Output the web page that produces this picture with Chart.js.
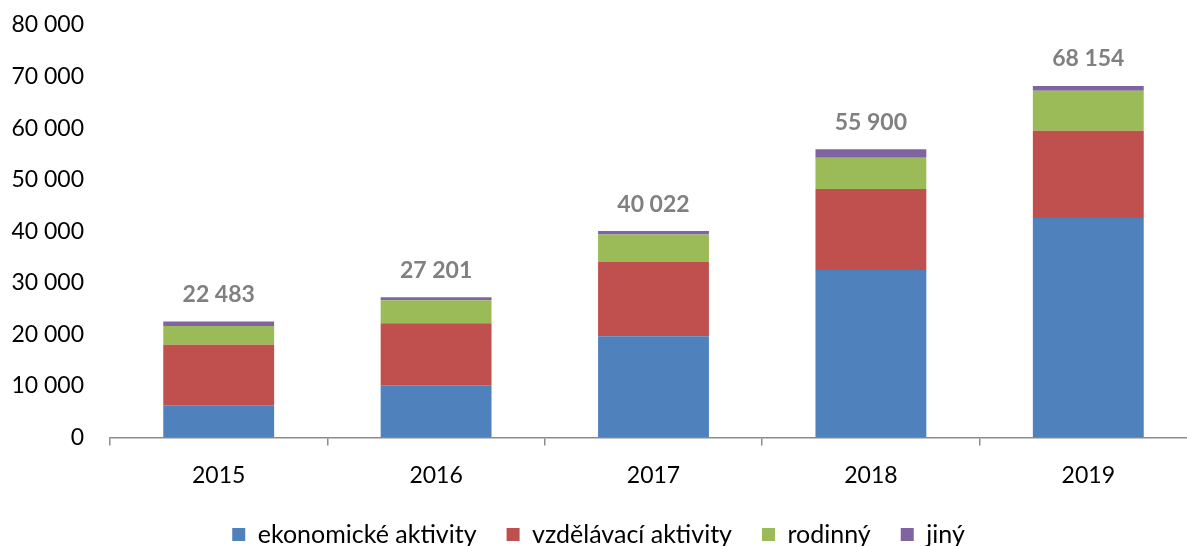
<!DOCTYPE html>
<html>
<head>
<meta charset="utf-8">
<script src="https://cdn.jsdelivr.net/npm/chart.js@4"></script>
<style>
  html, body { margin: 0; padding: 0; overflow: hidden; background: #fff; }
  #wrap { position: relative; width: 1197px; height: 557px; }
</style>
</head>
<body>
<div id="wrap"><canvas id="chart"></canvas></div>
<script>
const years = ['2015', '2016', '2017', '2018', '2019'];
const ekonomicke = [6260, 10140, 19630, 32480, 42560];
const vzdelavaci = [11690, 12010, 14400, 15700, 16940];
const rodinny = [3680, 4460, 5310, 6080, 7750];
const jiny = [853, 591, 682, 1640, 904];
const totals = [22483, 27201, 40022, 55900, 68154];
const yTicks = [0, 10000, 20000, 30000, 40000, 50000, 60000, 70000, 80000];

const fmt = v => String(v).replace(/\B(?=(\d{3})+(?!\d))/g, ' ');
const FONT = 'Lato, "Open Sans", sans-serif';

// součty nad sloupci
const totalLabels = {
  id: 'totalLabels',
  afterDatasetsDraw(chart) {
    const ctx = chart.ctx;
    const meta = chart.getDatasetMeta(chart.data.datasets.length - 1);
    ctx.save();
    ctx.font = 'bold 23px ' + FONT;
    ctx.fillStyle = '#808080';
    ctx.textAlign = 'center';
    ctx.textBaseline = 'middle';
    meta.data.forEach((bar, i) => {
      ctx.fillText(fmt(totals[i]), bar.x, bar.y - 27);
    });
    ctx.restore();
  }
};

new Chart(document.getElementById('chart'), {
  type: 'bar',
  data: {
    labels: years,
    datasets: [
      { label: 'ekonomické aktivity', data: ekonomicke, backgroundColor: '#4F81BD' },
      { label: 'vzdělávací aktivity', data: vzdelavaci, backgroundColor: '#C0504D' },
      { label: 'rodinný', data: rodinny, backgroundColor: '#9BBB59' },
      { label: 'jiný', data: jiny, backgroundColor: '#8064A2' }
    ]
  },
  options: {
    responsive: true,
    maintainAspectRatio: false,
    animation: false,
    datasets: { bar: { barPercentage: 0.51, categoryPercentage: 1 } },
    layout: { padding: { top: 25, right: 0, left: 0, bottom: 0 } },
    scales: {
      x: {
        stacked: true,
        afterFit: axis => { axis.height = axis.height - 13; },
        grid: { display: true, drawOnChartArea: false, drawTicks: true, tickLength: 8, offset: true, color: '#8c8c8c', lineWidth: 1.5 },
        border: { display: true, color: '#8c8c8c', width: 1.5 },
        ticks: { color: '#000', font: { family: FONT, size: 23 }, padding: 16 }
      },
      y: {
        stacked: true,
        min: 0,
        max: 80000,
        afterBuildTicks: axis => { axis.ticks = yTicks.map(v => ({ value: v })); },
        afterFit: axis => { axis.width = 110; },
        grid: { display: false, drawTicks: true, tickLength: 26 },
        border: { display: false },
        ticks: { color: '#000', font: { family: FONT, size: 23 }, padding: 0, callback: v => fmt(v) }
      }
    },
    plugins: {
      tooltip: { enabled: false },
      legend: {
        position: 'bottom',
        labels: {
          color: '#000',
          font: { family: FONT, size: 25 },
          boxWidth: 13,
          boxHeight: 13,
          padding: 30
        }
      }
    }
  },
  plugins: [totalLabels]
});
</script>
</body>
</html>
